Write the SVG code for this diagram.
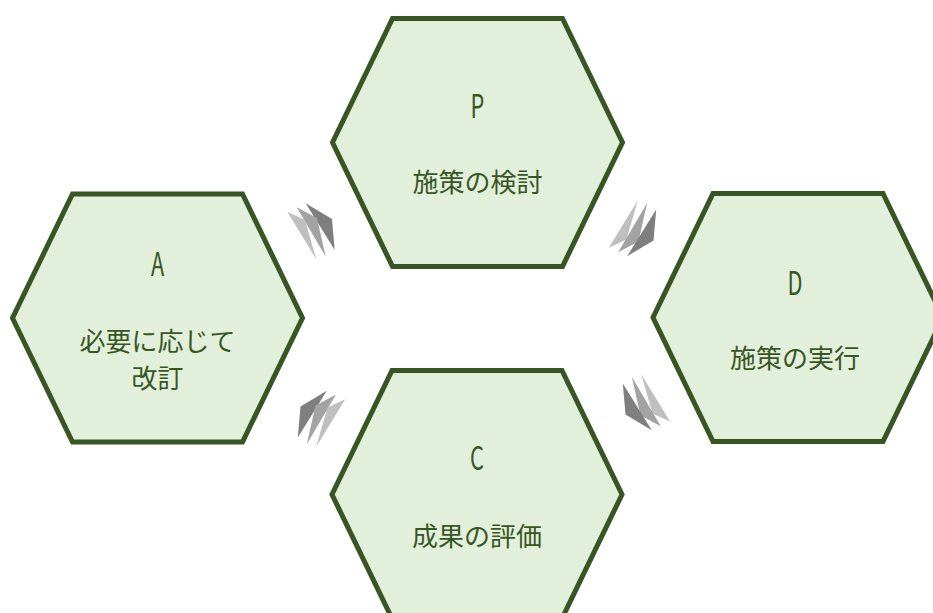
<svg xmlns="http://www.w3.org/2000/svg" xmlns:xlink="http://www.w3.org/1999/xlink" width="933" height="613" viewBox="0 0 933 613">
  <style>
    .hex { fill: #E2EFDA; stroke: #375623; stroke-width: 5; stroke-linejoin: miter; }
    .lat { font-family: "Noto Sans CJK JP", "Noto Sans", sans-serif; font-size: 32px; fill: #375623; text-anchor: middle; dominant-baseline: central; }
    .jp { font-family: "Noto Sans CJK JP", "Noto Sans", sans-serif; font-size: 26px; fill: #375623; text-anchor: middle; dominant-baseline: central; }
    .lt { fill: #BFBFBF; }
    .md { fill: #A3A3A3; }
    .dk { fill: #7F7F7F; }
  </style>
  <defs>
    <polygon id="hexShape" class="hex" points="-85,-124 85,-124 145,0 85,124 -85,124 -145,0"/>
    <g id="arrowA">
      <polygon class="dk" points="-5.3,-27.7 21,-12 23.7,19"/>
      <polygon class="md" points="-14.3,-23.7 6,-13 14.7,25.7"/>
      <polygon class="lt" points="-23.7,-19.3 -6,-11 5.3,28.3"/>
    </g>
    <g id="arrowB">
      <polygon class="lt" points="-23.7,-19.3 -6,-11 5.3,28.3"/>
      <polygon class="md" points="-14.3,-23.7 6,-13 14.7,25.7"/>
      <polygon class="dk" points="-5.3,-27.7 21,-12 23.7,19"/>
    </g>
  </defs>
  <rect width="933" height="613" fill="#FFFFFF"/>
  <g id="connectors">
    <use xlink:href="#arrowA" href="#arrowA" transform="translate(311,231)"/>
    <use xlink:href="#arrowB" href="#arrowB" transform="translate(632.5,228.5) scale(1,-1)"/>
    <use xlink:href="#arrowB" href="#arrowB" transform="translate(646.5,402.5) scale(-1,-1)"/>
    <use xlink:href="#arrowA" href="#arrowA" transform="translate(321.5,418.5) scale(-1,1)"/>
  </g>
  <g id="node-P">
    <use xlink:href="#hexShape" href="#hexShape" transform="translate(477.5,142.5)"/>
    <text class="lat" transform="translate(477.5,104) scale(0.68,1)">P</text>
    <text class="jp" x="477.5" y="180">施策の検討</text>
  </g>
  <g id="node-D">
    <use xlink:href="#hexShape" href="#hexShape" transform="translate(798,317.5)"/>
    <text class="lat" transform="translate(795,281) scale(0.68,1)">D</text>
    <text class="jp" x="795" y="356">施策の実行</text>
  </g>
  <g id="node-C">
    <use xlink:href="#hexShape" href="#hexShape" transform="translate(477,494.5)"/>
    <text class="lat" transform="translate(477,456) scale(0.68,1)">C</text>
    <text class="jp" x="477" y="534">成果の評価</text>
  </g>
  <g id="node-A">
    <use xlink:href="#hexShape" href="#hexShape" transform="translate(157.5,318)"/>
    <text class="lat" transform="translate(157.5,261.5) scale(0.68,1)">A</text>
    <text class="jp" x="157.5" y="339">必要に応じて</text>
    <text class="jp" x="157.5" y="376">改訂</text>
  </g>
</svg>
